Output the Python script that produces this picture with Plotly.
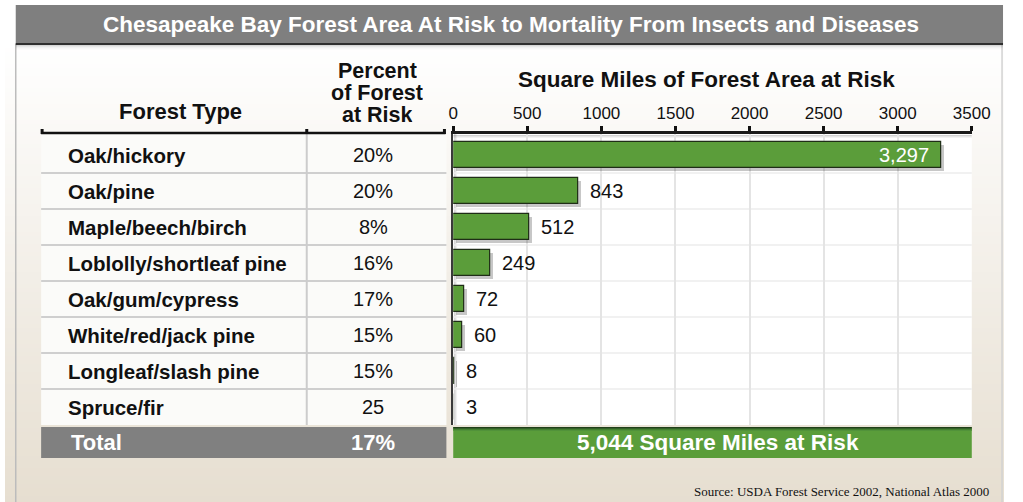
import plotly.graph_objects as go

# ---- data -------------------------------------------------------------
forest_types = [
    "Oak/hickory", "Oak/pine", "Maple/beech/birch", "Loblolly/shortleaf pine",
    "Oak/gum/cypress", "White/red/jack pine", "Longleaf/slash pine", "Spruce/fir",
]
pct_at_risk = ["20%", "20%", "8%", "16%", "17%", "15%", "15%", "25"]
sq_miles = [3297, 843, 512, 249, 72, 60, 8, 3]
total_pct = "17%"
x_ticks = [0, 500, 1000, 1500, 2000, 2500, 3000, 3500]

# ---- page geometry (pixels) --------------------------------------------
W, H = 1023, 502
FONT = "Liberation Sans, Arial, sans-serif"


def px(x):
    return min(max(x / W, 0), 1)


def py(y):
    return min(max(1 - y / H, 0), 1)


ROW_TOP, ROW_H = 137, 36
AX_TOP, AX_BOTTOM = 134, 425
PLOT_L, PLOT_R = 459, 990
n = len(forest_types)
rows = list(range(n))
x_max = x_ticks[-1]
x_per_px = x_max / (PLOT_R - PLOT_L)

shapes = []


def rect(x0, y0, x1, y1, color, layer="below"):
    shapes.append(dict(type="rect", xref="paper", yref="paper",
                       x0=px(x0), x1=px(x1), y0=py(y1), y1=py(y0),
                       fillcolor=color, line=dict(width=0), layer=layer))


def hline(x0, x1, y, color, width, layer="below"):
    shapes.append(dict(type="line", xref="paper", yref="paper",
                       x0=px(x0), x1=px(x1), y0=py(y), y1=py(y),
                       line=dict(color=color, width=width), layer=layer))


def vline(x, y0, y1, color, width, layer="below"):
    shapes.append(dict(type="line", xref="paper", yref="paper",
                       x0=px(x), x1=px(x), y0=py(y0), y1=py(y1),
                       line=dict(color=color, width=width), layer=layer))


# background: white at the top fading to a warm beige at the bottom
top_c, bot_c = (255, 255, 255), (230, 222, 208)
g0, step = 40, 4
for y in range(0, H, step):
    t = 0 if y < g0 else min(1, (y - g0) / (H - g0))
    c = tuple(round(a + (b - a) * t) for a, b in zip(top_c, bot_c))
    rect(0, y, W, min(y + step + 1, H), "rgb(%d,%d,%d)" % c)

# panel frame
vline(11, 44, H, "#bcbcbc", 1.5)
vline(1021, 44, H, "#d2d2d2", 1.5)

# title bar with dark rule and soft shadow
rect(11, 5, 1022, 44, "#7f7f7f")
for k, a in enumerate([0.16, 0.10, 0.06, 0.03, 0.015]):
    rect(11, 45 + k, 1022, 46 + k, "rgba(0,0,0,%.3f)" % a)
hline(11, 1022, 44, "#2e2e2e", 2)

# table body
rect(37, AX_TOP, 452, AX_BOTTOM, "#fbfbf9")
for i in range(1, n):
    hline(37, 452, ROW_TOP + i * ROW_H, "#cfcfcf", 2)
vline(309, 133, AX_BOTTOM, "#cccccc", 2)

# header brackets
hline(37, 451, 133, "#111111", 2.5)
for xt in (38, 309, 450):
    vline(xt, 129, 134, "#111111", 3)

# plot area
rect(PLOT_L, AX_TOP, PLOT_R, AX_BOTTOM, "#ffffff")
for k, a in enumerate([0.18, 0.10, 0.05]):
    rect(PLOT_L, 135 + k, PLOT_R, 136 + k, "rgba(0,0,0,%.2f)" % a)
for k, a in enumerate([0.20, 0.10, 0.05]):
    rect(PLOT_L + 1 + k, AX_TOP, PLOT_L + 2 + k, AX_BOTTOM, "rgba(0,0,0,%.2f)" % a)
for i in range(1, n):
    shapes.append(dict(type="line", xref="paper", yref="y",
                       x0=px(PLOT_L), x1=px(PLOT_R), y0=i - 0.5, y1=i - 0.5,
                       line=dict(color="#ececec", width=1.5), layer="below"))

# total row
rect(37, 427, 452, 458, "#808080")
rect(PLOT_L, 427, PLOT_R, 458, "#5a9d3a")
for k, c in enumerate(["#22401a", "#33602a", "#44802f", "#51923a"]):
    rect(PLOT_L, 427 + k, PLOT_R, 428 + k, c)

# ---- bars --------------------------------------------------------------
bar_w = 26 / ROW_H
shadow_dx = 3 * x_per_px
shadow_dy = 3 / ROW_H

fig = go.Figure()
fig.add_trace(go.Bar(
    x=sq_miles, y=rows, orientation="h", base=shadow_dx,
    width=bar_w, offset=-bar_w / 2 + shadow_dy,
    marker=dict(color="rgba(0,0,0,0.22)", line=dict(width=0)),
    hoverinfo="skip", showlegend=False,
))
fig.add_trace(go.Bar(
    x=sq_miles, y=rows, orientation="h",
    width=bar_w, offset=-bar_w / 2,
    marker=dict(color="#5b9d3a", line=dict(color="#1f2d17", width=1.2)),
    hovertemplate="%{x:,} sq mi<extra></extra>", showlegend=False,
))

annotations = []
# value labels
for i, v in enumerate(sq_miles):
    inside = v > 2000
    annotations.append(dict(
        x=v, y=i, xref="x", yref="y", text=f"{v:,}", showarrow=False,
        xanchor="right" if inside else "left", xshift=-11 if inside else 10,
        font=dict(family=FONT, size=20, color="white" if inside else "#111111"),
    ))

# table text
for i, (name, pct) in enumerate(zip(forest_types, pct_at_risk)):
    annotations.append(dict(x=px(62), y=i, xref="paper", yref="y", text=f"<b>{name}</b>",
                            showarrow=False, xanchor="left",
                            font=dict(family=FONT, size=20.5, color="#111111")))
    annotations.append(dict(x=px(377), y=i, xref="paper", yref="y", text=pct,
                            showarrow=False, xanchor="center",
                            font=dict(family=FONT, size=20, color="#111111")))


def label(x, y, text, size, color="#111111", anchor="center", family=FONT, box_h=None):
    ann = dict(x=px(x), y=py(y), xref="paper", yref="paper", text=text,
               showarrow=False, xanchor=anchor, yanchor="middle",
               font=dict(family=family, size=size, color=color))
    if box_h:
        ann["height"] = box_h
    annotations.append(ann)


label(518, 25, "<b>Chesapeake Bay Forest Area At Risk to Mortality From Insects and Diseases</b>",
      22.5, "white")
label(180, 111, "<b>Forest Type</b>", 22)
# stacked three-line column header, tightly leaded
for yy, word in zip((70, 92, 114), ("Percent", "of Forest", "at Risk")):
    label(381, yy, f"<b>{word}</b>", 21.5, box_h=21)
label(718, 80, "<b>Square Miles of Forest Area at Risk</b>", 22.5)
label(66, 442, "<b>Total</b>", 22, "white", "left")
label(377, 442, f"<b>{total_pct}</b>", 22, "white")
label(730, 442, f"<b>{sum(sq_miles):,} Square Miles at Risk</b>", 22.5, "white")
label(1010, 491, "Source: USDA Forest Service 2002, National Atlas 2000", 13, "#111111",
      "right", "Liberation Serif, Times New Roman, serif")

fig.update_layout(
    width=W, height=H, margin=dict(l=0, r=0, t=0, b=0),
    paper_bgcolor="white", plot_bgcolor="rgba(0,0,0,0)",
    barmode="overlay", bargap=0,
    shapes=shapes, annotations=annotations,
    xaxis=dict(
        domain=[px(PLOT_L), px(PLOT_R)], range=[0, x_max], side="top",
        tickvals=x_ticks, ticktext=[str(t) for t in x_ticks],
        ticks="outside", ticklen=5, tickwidth=2.5, tickcolor="#111111",
        showline=True, linecolor="#1a1a1a", linewidth=2.5,
        showgrid=True, gridcolor="#e4e4e4", gridwidth=1.5, zeroline=False,
        tickfont=dict(family=FONT, size=17, color="#111111"), fixedrange=True,
    ),
    yaxis=dict(
        domain=[py(AX_BOTTOM), py(AX_TOP)],
        range=[n - 0.5, -0.5 - (ROW_TOP - AX_TOP) / ROW_H],
        showticklabels=False, ticks="", showgrid=False, zeroline=False,
        showline=True, linecolor="#3a3a3a", linewidth=2, fixedrange=True,
    ),
    showlegend=False,
)

fig.write_html("out.html")
